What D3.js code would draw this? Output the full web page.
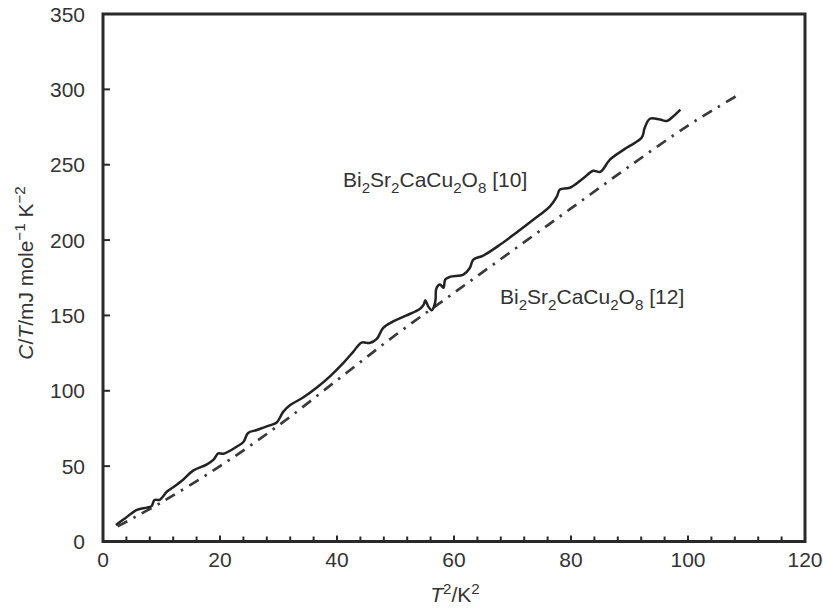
<!DOCTYPE html>
<html>
<head>
<meta charset="utf-8">
<script src="https://cdn.jsdelivr.net/npm/d3@7"></script>
<style>
  body { margin: 0; background: #fff; }
  svg { display: block; font-family: "Liberation Sans", Arial, sans-serif; }
</style>
</head>
<body>
<svg width="823" height="611"></svg>
<script>
// Bi2Sr2CaCu2O8 [10] - measured curve (T^2, C/T)
const tSq10 = [2.2, 3.8, 5.8, 7.5, 8.3, 8.8, 9.7, 10.9, 12.0, 13.7, 15.4, 17.7, 18.9, 19.7, 20.6,
  22.9, 24.0, 24.8, 26.3, 28.5, 29.7, 30.8, 32.0, 34.2, 36.5, 38.8, 41.1, 42.8, 44.2, 45.6,
  46.8, 47.9, 49.6, 51.9, 54.2, 54.8, 55.1, 55.6, 56.2, 56.8, 57.0, 57.6, 58.2, 58.5, 59.3,
  61.6, 62.7, 63.3, 65.0, 67.9, 70.7, 73.6, 76.4, 77.6, 78.1, 79.8, 82.1, 83.8, 85.0, 86.7,
  89.5, 92.1, 92.6, 93.5, 95.2, 96.4, 97.5, 98.7];
const cT10 = [11, 15.5, 21, 22.5, 23.5, 27.5, 27.7, 33, 36, 41, 47, 51, 54.3, 58.5, 58.2,
  63, 66, 72, 74, 77, 79, 86, 90.5, 95.5, 102, 109.6, 118.5, 126, 132, 131.7,
  134.4, 141.7, 146, 150, 154.5, 157, 160, 156, 153.5, 159, 168, 170.5, 168.3, 173.8, 175.6,
  177.1, 181.5, 187, 189.7, 197, 205, 213.6, 222.4, 229, 233.5, 234.7, 241, 246, 245.3, 253.5,
  261.2, 268, 274.5, 280.5, 280, 279, 282.2, 286.6];

// Bi2Sr2CaCu2O8 [12] - dash-dot curve
const tSq12 = [2.5, 10, 20, 30, 40, 50, 60, 70, 80, 90, 100, 105, 109.2];
const cT12 = [10, 26, 50, 77, 107, 137, 165, 193, 221, 249, 276, 288, 297.7];

const xTicks = [0, 20, 40, 60, 80, 100, 120];
const xMinorTicks = d3.range(0, 121, 4);
const yTicks = [0, 50, 100, 150, 200, 250, 300, 350];

const svg = d3.select('svg');
const plotLeft = 103, plotRight = 805, plotTop = 14, plotBottom = 541.5;

const x = d3.scaleLinear().domain([0, 120]).range([plotLeft, plotRight]);
const y = d3.scaleLinear().domain([0, 350]).range([plotBottom, plotTop]);

const ink = '#2a2a2a';
const textCol = '#333';
const fs = 21;

// frame
svg.append('rect')
    .attr('x', plotLeft).attr('y', plotTop)
    .attr('width', plotRight - plotLeft).attr('height', plotBottom - plotTop)
    .attr('fill', 'none')
    .attr('stroke', ink)
    .attr('stroke-width', 3);

// x ticks (inside, every 4 units)
svg.append('g')
    .selectAll('line')
    .data(xMinorTicks)
    .enter().append('line')
    .attr('x1', d => x(d)).attr('x2', d => x(d))
    .attr('y1', plotBottom).attr('y2', d => plotBottom - (d % 20 === 0 ? 6 : 5))
    .attr('stroke', ink)
    .attr('stroke-width', 2);

// y ticks (inside)
svg.append('g')
    .selectAll('line')
    .data(yTicks)
    .enter().append('line')
    .attr('x1', plotLeft).attr('x2', plotLeft + 7)
    .attr('y1', d => y(d)).attr('y2', d => y(d))
    .attr('stroke', ink)
    .attr('stroke-width', 2);

// tick labels
svg.append('g')
    .selectAll('text')
    .data(xTicks)
    .enter().append('text')
    .attr('x', d => x(d))
    .attr('y', 567)
    .attr('text-anchor', 'middle')
    .attr('font-size', fs)
    .attr('fill', textCol)
    .text(d => d);

svg.append('g')
    .selectAll('text')
    .data(yTicks)
    .enter().append('text')
    .attr('x', 85)
    .attr('y', d => y(d))
    .attr('dy', '0.36em')
    .attr('text-anchor', 'end')
    .attr('font-size', fs)
    .attr('fill', textCol)
    .text(d => d);

// rich text helper: parts = [text, style] where style is '', 'i', 'sub', 'sup'
function richText(sel, parts, size) {
    let shift = 0;
    parts.forEach(([t, s]) => {
        const ts = sel.append('tspan').text(t);
        let target = 0;
        if (s === 'sub') target = size * 0.3;
        if (s === 'sup') target = -size * 0.4;
        ts.attr('dy', target - shift);
        shift = target;
        if (s === 'sub' || s === 'sup') ts.attr('font-size', size * 0.72);
        if (s === 'i') ts.attr('font-style', 'italic');
    });
}

// axis titles
const xt = svg.append('text')
    .attr('x', 455).attr('y', 602)
    .attr('text-anchor', 'middle')
    .attr('font-size', fs)
    .attr('fill', textCol);
richText(xt, [['T', 'i'], ['2', 'sup'], ['/K', ''], ['2', 'sup']], fs);

const yt = svg.append('text')
    .attr('transform', 'translate(33,273) rotate(-90)')
    .attr('text-anchor', 'middle')
    .attr('font-size', fs)
    .attr('fill', textCol);
richText(yt, [['C', 'i'], ['/', ''], ['T', 'i'], ['/mJ mole', ''], ['\u22121', 'sup'], [' K', ''], ['\u22122', 'sup']], fs);

// curves
const line = d3.line()
    .x(d => x(d[0]))
    .y(d => y(d[1]))
    .curve(d3.curveCatmullRom.alpha(0.5));

svg.append('path')
    .datum(d3.zip(tSq12, cT12))
    .attr('d', line)
    .attr('fill', 'none')
    .attr('stroke', '#3a3a3a')
    .attr('stroke-width', 2.7)
    .attr('stroke-dasharray', '11 7 2.5 7');

svg.append('path')
    .datum(d3.zip(tSq10, cT10))
    .attr('d', line)
    .attr('fill', 'none')
    .attr('stroke', '#222')
    .attr('stroke-width', 2.5)
    .attr('stroke-linejoin', 'round');

// curve labels
const formula = [['Bi', ''], ['2', 'sub'], ['Sr', ''], ['2', 'sub'], ['CaCu', ''], ['2', 'sub'], ['O', ''], ['8', 'sub']];
const lab1 = svg.append('text')
    .attr('x', 343).attr('y', 187)
    .attr('font-size', fs)
    .attr('fill', textCol);
richText(lab1, formula.concat([[' [10]', '']]), fs);

const lab2 = svg.append('text')
    .attr('x', 500).attr('y', 304)
    .attr('font-size', fs)
    .attr('fill', textCol);
richText(lab2, formula.concat([[' [12]', '']]), fs);
</script>
</body>
</html>
